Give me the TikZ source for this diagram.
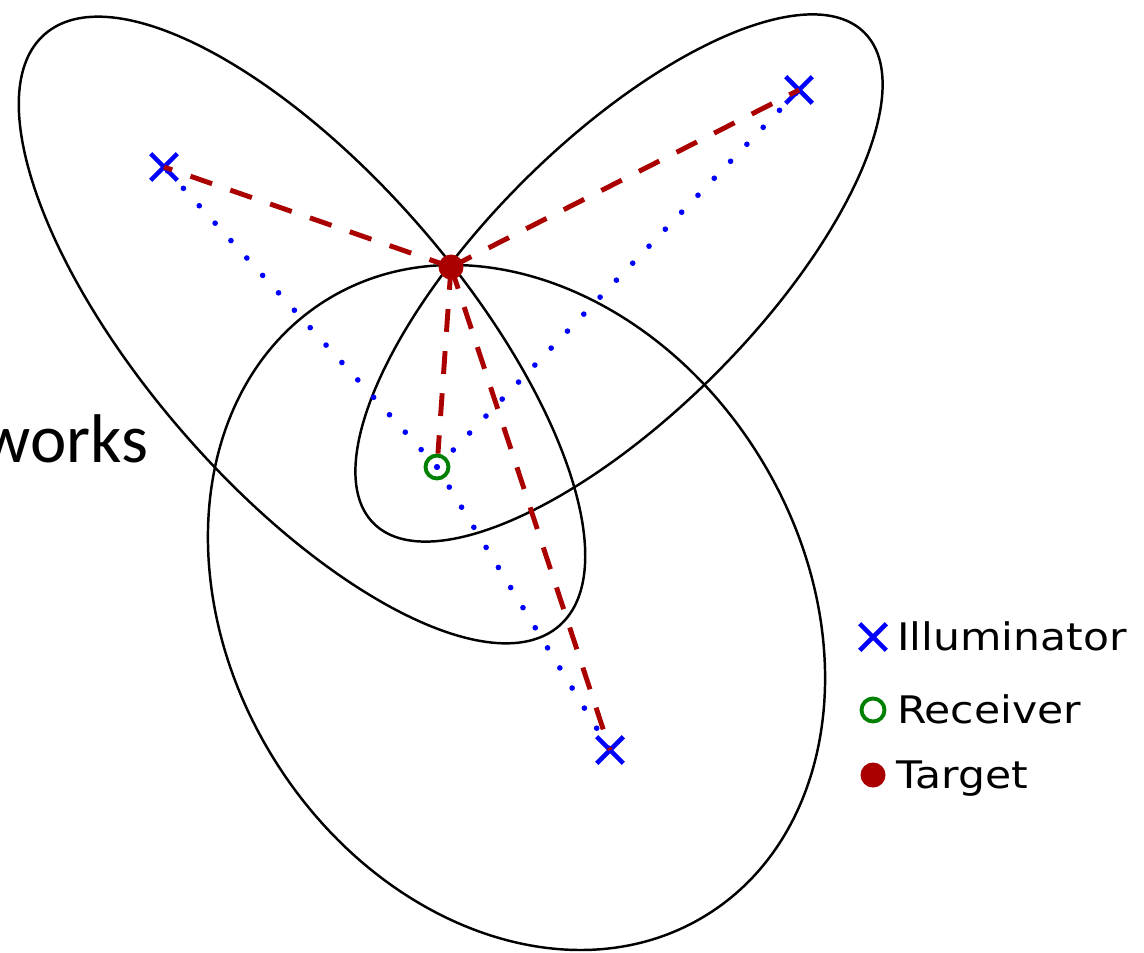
\documentclass[tikz,border=0pt]{standalone}
\usepackage{fontspec}
\newfontfamily\legendfont[FakeStretch=1.12]{DejaVu Sans}
\newfontfamily\slidefont{Carlito}
\usetikzlibrary{shapes.misc,positioning}
\definecolor{tgtred}{RGB}{170,0,0}
\definecolor{rxgreen}{RGB}{0,128,0}

\begin{document}
\begin{tikzpicture}[
  illum/.style={cross out,draw=blue,line width=1.3pt,inner sep=0pt,minimum size=0.22cm},
  rx/.style={circle,draw=rxgreen,line width=1.1pt,inner sep=0pt,minimum size=0.23cm},
  tgt/.style={circle,fill=tgtred,inner sep=0pt,minimum size=0.25cm},
  orbit/.style={draw=black,line width=0.7pt},
  echo/.style={draw=tgtred,line width=1.4pt,dash pattern=on 6.5pt off 5.5pt},
  direct/.style={draw=blue,line width=1.6pt,line cap=round,dash pattern=on 0pt off 6.7pt},
  legend/.style={font=\legendfont\fontsize{10.8}{12}\selectfont,inner sep=0pt,text height=0.277cm,text depth=0pt}
]
\useasboundingbox (0,0) rectangle (11.44,9.52);

\node[anchor=base east,inner sep=0pt,font=\slidefont\fontsize{19.6}{22}\selectfont] (cut) at (1.49,4.90) {works};

\draw[orbit,rotate around={-49:(3.02,6.22)}] (3.02,6.22) ellipse [x radius=3.92,y radius=1.57];
\draw[orbit,rotate around={45:(6.19,6.74)}] (6.19,6.74) ellipse [x radius=3.47,y radius=1.36];
\draw[orbit,rotate around={-58.4:(5.165,3.445)}] (5.165,3.445) ellipse [x radius=3.615,y radius=2.86];

\node[illum] (I1) at (1.64,7.85) {};
\node[illum] (I2) at (7.99,8.62) {};
\node[illum] (I3) at (6.10,2.02) {};
\node[rx] (R) at (4.37,4.85) {};
\node[tgt] (T) at (4.51,6.85) {};

\draw[direct] (R.center) -- (I1.center);
\draw[direct] (R.center) -- (I2.center);
\draw[direct] (R.center) -- (I3.center);

\draw[echo] (T.center) -- (I1.center);
\draw[echo] (T.center) -- (I2.center);
\draw[echo] (T.center) -- (I3.center);
\draw[echo] (T.center) -- (R);

\node[illum] (legI) at (8.73,3.15) {};
\node[rx] (legR) at (8.73,2.42) {};
\node[tgt] (legT) at (8.73,1.77) {};
\node[legend,right=0.1cm of legI] (legItxt) {Illuminator};
\node[legend,right=0.1cm of legR] (legRtxt) {Receiver};
\node[legend,right=0.1cm of legT] (legTtxt) {Target};
\end{tikzpicture}
\end{document}
